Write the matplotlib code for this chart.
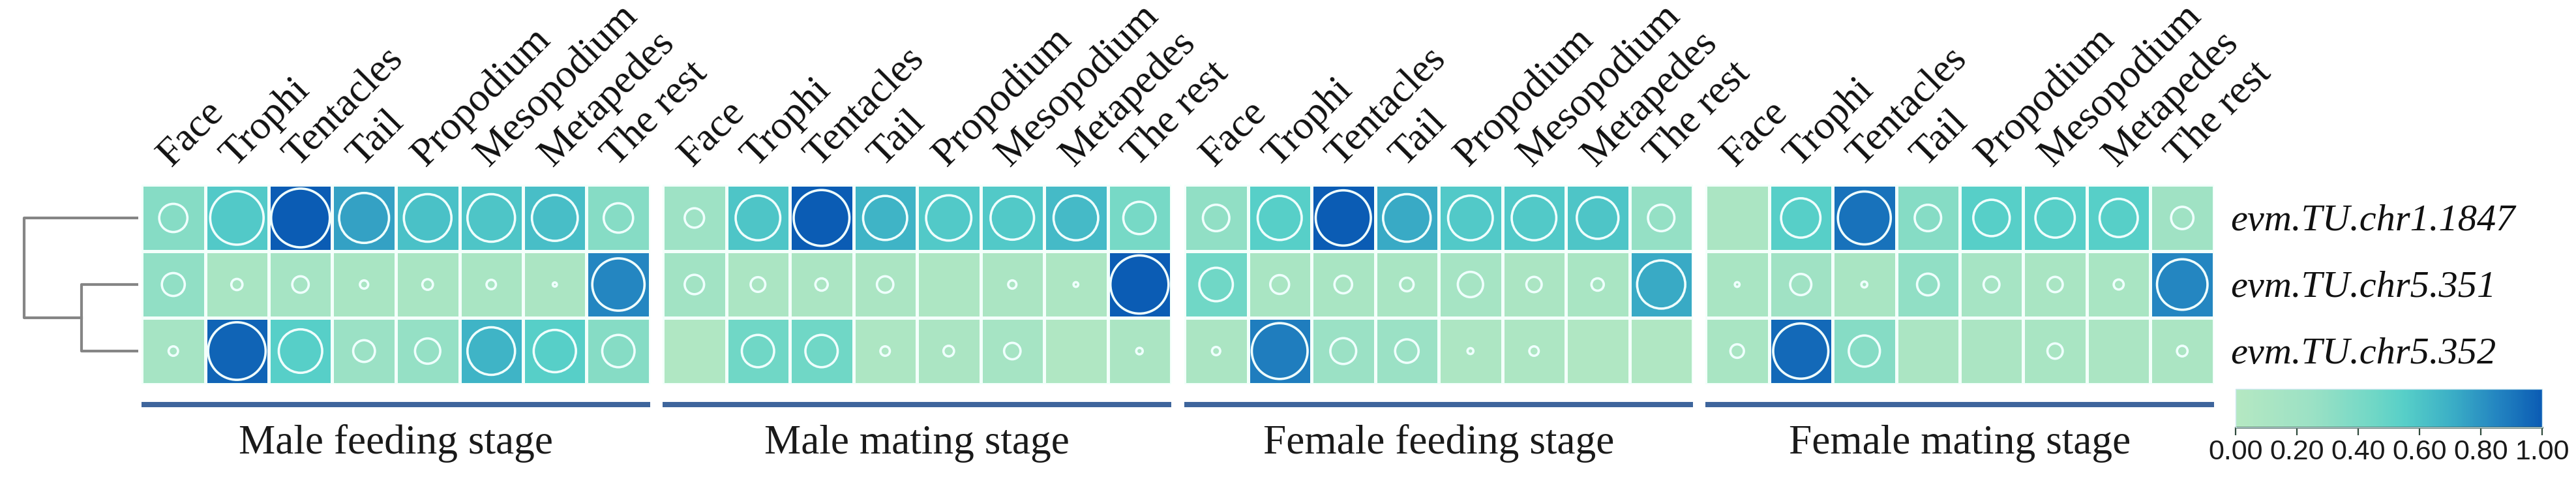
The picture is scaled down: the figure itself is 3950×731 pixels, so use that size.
import numpy as np
import matplotlib
matplotlib.use("Agg")
import matplotlib.pyplot as plt
import matplotlib.transforms as mtransforms
from matplotlib.colors import LinearSegmentedColormap, Normalize
from matplotlib.cm import ScalarMappable


# =========================
# 1. Data
# =========================

tissues = ["Face", "Trophi", "Tentacles", "Tail", "Propodium",
           "Mesopodium", "Metapedes", "The rest"]
genes = ["evm.TU.chr1.1847", "evm.TU.chr5.351", "evm.TU.chr5.352"]
stages = ["Male feeding stage", "Male mating stage",
          "Female feeding stage", "Female mating stage"]

# cell colour (relative expression, 0-1)
male_feeding_color = [
    [0.35, 0.58, 1.00, 0.75, 0.62, 0.60, 0.63, 0.35],
    [0.30, 0.12, 0.15, 0.12, 0.12, 0.12, 0.10, 0.85],
    [0.15, 0.97, 0.55, 0.25, 0.28, 0.68, 0.55, 0.35],
]
male_mating_color = [
    [0.22, 0.60, 1.00, 0.68, 0.58, 0.58, 0.65, 0.42],
    [0.18, 0.10, 0.10, 0.10, 0.08, 0.10, 0.08, 1.00],
    [0.05, 0.45, 0.45, 0.08, 0.10, 0.15, 0.05, 0.10],
]
female_feeding_color = [
    [0.30, 0.55, 1.00, 0.72, 0.58, 0.58, 0.60, 0.28],
    [0.45, 0.12, 0.12, 0.12, 0.15, 0.10, 0.12, 0.72],
    [0.10, 0.88, 0.25, 0.25, 0.08, 0.08, 0.05, 0.05],
]
female_mating_color = [
    [0.10, 0.55, 0.92, 0.35, 0.55, 0.55, 0.55, 0.20],
    [0.12, 0.20, 0.12, 0.30, 0.15, 0.12, 0.12, 0.85],
    [0.12, 0.95, 0.35, 0.10, 0.10, 0.12, 0.10, 0.10],
]

# circle size (relative diameter, 0-1)
male_feeding_size = [
    [0.48, 0.91, 1.00, 0.85, 0.81, 0.81, 0.78, 0.50],
    [0.39, 0.19, 0.28, 0.14, 0.18, 0.16, 0.07, 0.89],
    [0.16, 0.98, 0.74, 0.37, 0.43, 0.81, 0.72, 0.55],
]
male_mating_size = [
    [0.33, 0.76, 0.95, 0.75, 0.77, 0.74, 0.76, 0.55],
    [0.33, 0.25, 0.21, 0.28, 0.00, 0.14, 0.08, 0.99],
    [0.00, 0.55, 0.55, 0.16, 0.18, 0.28, 0.00, 0.11],
]
female_feeding_size = [
    [0.45, 0.75, 0.94, 0.81, 0.76, 0.76, 0.71, 0.45],
    [0.57, 0.32, 0.30, 0.23, 0.43, 0.26, 0.21, 0.82],
    [0.14, 0.95, 0.44, 0.40, 0.10, 0.16, 0.00, 0.00],
]
female_mating_size = [
    [0.00, 0.67, 0.90, 0.45, 0.62, 0.67, 0.65, 0.38],
    [0.08, 0.36, 0.10, 0.37, 0.27, 0.26, 0.17, 0.86],
    [0.23, 0.94, 0.53, 0.00, 0.00, 0.26, 0.00, 0.18],
]

panel_colors = [male_feeding_color, male_mating_color,
                female_feeding_color, female_mating_color]
panel_sizes = [male_feeding_size, male_mating_size,
               female_feeding_size, female_mating_size]

# dendrogram merge heights: (chr5.351 + chr5.352), then + chr1.1847
dendro_heights = [0.5, 1.0]

colorbar_ticks = [0.0, 0.2, 0.4, 0.6, 0.8, 1.0]


# =========================
# 2. Figure layout (pixels)
# =========================

W, H, DPI = 3950, 731, 100
fig = plt.figure(figsize=(W / DPI, H / DPI), dpi=DPI)

SERIF = ["Liberation Serif", "DejaVu Serif"]
SANS = ["Liberation Sans", "DejaVu Sans"]

panel_left = [217, 1016, 1816, 2615]
panel_w = 780
hm_top, hm_bottom = 283, 589
hm_h = hm_bottom - hm_top

cmap = LinearSegmentedColormap.from_list("teal_blue", [
    (0.00, "#b5e8c2"),
    (0.25, "#9be1c5"),
    (0.45, "#70d7c6"),
    (0.55, "#57cfc8"),
    (0.70, "#3cb0c6"),
    (0.85, "#2486c1"),
    (1.00, "#0b5cb4"),
])
norm = Normalize(0, 1)

max_diam_pt = 90 * 72 / DPI


def box(left_px, top_px, w_px, h_px):
    return [left_px / W, 1 - (top_px + h_px) / H, w_px / W, h_px / H]


# =========================
# 3. Heatmap panels
# =========================

for i in range(4):
    ax = fig.add_axes(box(panel_left[i], hm_top, panel_w, hm_h))
    colors = np.array(panel_colors[i])
    sizes = np.array(panel_sizes[i])

    ax.pcolormesh(np.arange(len(tissues) + 1), np.arange(len(genes) + 1),
                  colors, cmap=cmap, norm=norm,
                  edgecolors="#f4fffb", linewidth=2.4)

    xx, yy = np.meshgrid(np.arange(len(tissues)) + 0.5,
                         np.arange(len(genes)) + 0.5)
    keep = sizes > 0
    ax.scatter(xx[keep], yy[keep], s=(sizes[keep] * max_diam_pt) ** 2,
               facecolors="none", edgecolors="#effffd", linewidths=2.6,
               zorder=3)

    ax.set_xlim(0, len(tissues))
    ax.set_ylim(len(genes), 0)
    ax.axis("off")

    # tissue labels
    trans = mtransforms.blended_transform_factory(ax.transData, ax.transAxes)
    for j, name in enumerate(tissues):
        ax.text(j + 0.46, 1 + 26 / hm_h, name, transform=trans,
                rotation=45, rotation_mode="anchor", ha="left", va="baseline",
                fontsize=44.5, family=SERIF, color="#111111")

    # stage underline + label
    ax.plot([0, 1], [-31 / hm_h, -31 / hm_h], transform=ax.transAxes,
            clip_on=False, color="#3e659c", lw=5.8, solid_capstyle="butt")
    ax.text(0.5, -(695 - hm_bottom) / hm_h, stages[i], transform=ax.transAxes,
            ha="center", va="baseline", fontsize=45.5, family=SERIF,
            color="#1a1a1a")


# =========================
# 4. Dendrogram
# =========================

dax = fig.add_axes(box(30, hm_top, 182, hm_h))
h_in, h_out = dendro_heights
mid = (1.5 + 2.5) / 2
dcol, dlw = "#858585", 3.0
dax.plot([0, h_in, h_in, 0], [1.5, 1.5, 2.5, 2.5], color=dcol, lw=dlw)
dax.plot([0, h_out, h_out, h_in], [0.5, 0.5, mid, mid], color=dcol, lw=dlw)
dax.set_xlim(1.04, 0)
dax.set_ylim(len(genes), 0)
dax.axis("off")


# =========================
# 5. Gene labels
# =========================

for k, g in enumerate(genes):
    y_base = hm_top + (k + 0.5) * hm_h / len(genes) + 19
    fig.text(3420 / W, 1 - y_base / H, g, ha="left", va="baseline",
             fontsize=42, family=SERIF, style="italic", color="#111111")


# =========================
# 6. Colour bar
# =========================

cax = fig.add_axes(box(3428, 596, 470, 59))
cb = fig.colorbar(ScalarMappable(norm=norm, cmap=cmap), cax=cax,
                  orientation="horizontal", ticks=colorbar_ticks)
cb.outline.set_edgecolor("#cfe9f2")
cb.outline.set_linewidth(1.0)
cax.axhline(0, color="#2f4a3c", lw=2.0, clip_on=False)
cax.xaxis.set_major_formatter("{x:.2f}")
cax.tick_params(axis="x", direction="out", length=8.6, width=1.6,
                color="#2f4a3c", labelsize=31, pad=4, labelcolor="#1a1a1a")
plt.setp(cax.get_xticklabels(), family=SANS)

fig.savefig("out.png", dpi=DPI, facecolor="white")
